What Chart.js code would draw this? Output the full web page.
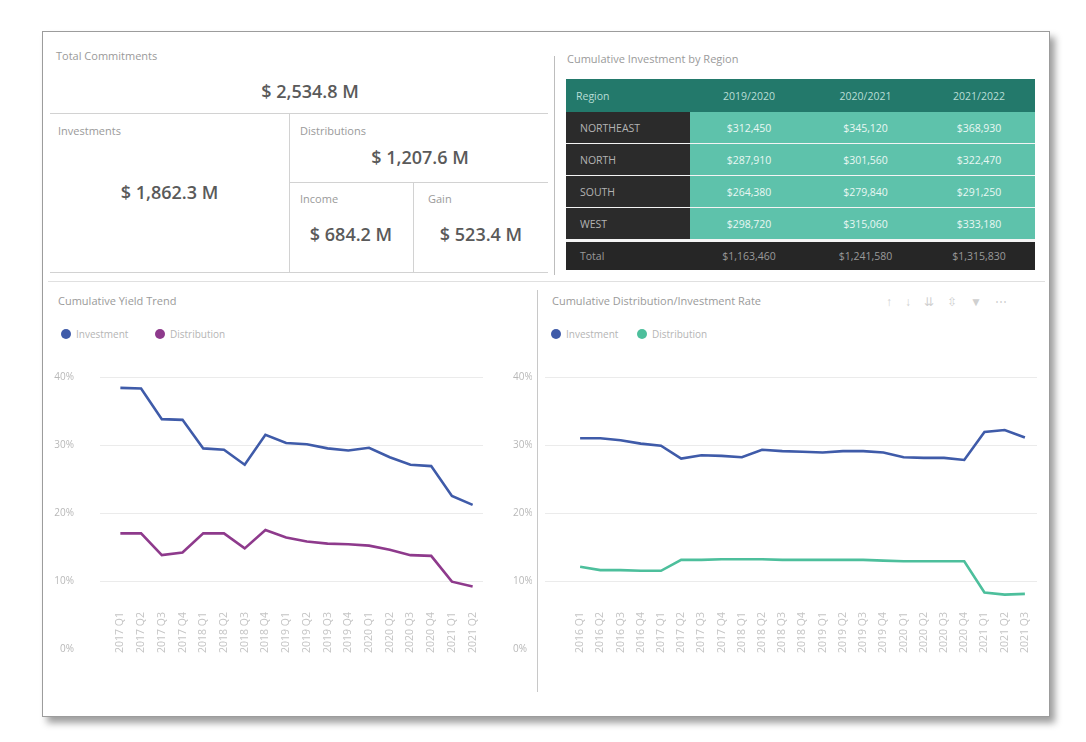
<!DOCTYPE html>
<html>
<head>
<meta charset="utf-8">
<script src="https://cdn.jsdelivr.net/npm/chart.js@4"></script>
<style>
  html, body { margin:0; padding:0; background:#fff; }
  body { width:1086px; height:742px; position:relative; overflow:hidden; font-family:"Open Sans","Noto Sans",sans-serif; }
  .abs { position:absolute; }
  .card { left:42px; top:31px; width:1006px; height:684px; border:1px solid #9c9c9c; background:#fff;
          box-shadow:5px 6px 7px rgba(0,0,0,0.38); }
  .line { position:absolute; background:#d2d2d2; }
  .ttl { position:absolute; font-size:11px; color:#9a9a9a; white-space:nowrap; }
  .val { position:absolute; font-size:18px; font-weight:600; color:#5a5a5a; text-align:center; white-space:nowrap; }
  .leg { position:absolute; font-size:10px; color:#b5b5b5; white-space:nowrap; display:flex; align-items:center; }
  .dot { width:10px; height:10px; border-radius:50%; display:inline-block; margin-right:5px; }
  table.reg { position:absolute; left:566px; top:79px; width:469px; border-collapse:collapse; table-layout:fixed; font-size:10.5px; }
  table.reg td, table.reg th { padding:0; text-align:center; white-space:nowrap; font-weight:400; }
  table.reg th { background:#23796b; color:#b9ded6; height:33px; }
  table.reg th:first-child { text-align:left; padding-left:10px; }
  table.reg td { height:31px; border-bottom:1.5px solid #f4f4f4; }
  table.reg td.rg { background:#2b2b2b; color:#b3b3b3; text-align:left; padding-left:14px; }
  table.reg td.nv { background:#5ec2ab; color:#e9f7f3; }
  table.reg tr.tot td { background:#262626; color:#9a9a9a; height:28px; border-bottom:none; border-top:3px solid #f4f4f4; }
  .icons { position:absolute; left:886px; top:293px; font-size:12px; color:#d0d0d0; letter-spacing:13px; white-space:nowrap; }
  canvas { position:absolute; }
</style>
</head>
<body>
<div class="abs card"></div>

<!-- KPI block -->
<div class="ttl" style="left:56px;top:48px;">Total Commitments</div>
<div class="val" style="left:50px;width:520px;top:79px;" id="kpi0"></div>
<div class="line" style="left:50px;top:113px;width:498px;height:1px;"></div>
<div class="ttl" style="left:58px;top:123px;">Investments</div>
<div class="val" style="left:50px;width:239px;top:180px;" id="kpi1"></div>
<div class="line" style="left:289px;top:113px;width:1px;height:159px;"></div>
<div class="ttl" style="left:300px;top:123px;">Distributions</div>
<div class="val" style="left:289px;width:262px;top:145px;" id="kpi2"></div>
<div class="line" style="left:289px;top:182px;width:259px;height:1px;"></div>
<div class="ttl" style="left:300px;top:191px;">Income</div>
<div class="val" style="left:289px;width:124px;top:222px;" id="kpi3"></div>
<div class="line" style="left:413px;top:182px;width:1px;height:90px;"></div>
<div class="ttl" style="left:428px;top:191px;">Gain</div>
<div class="val" style="left:413px;width:136px;top:222px;" id="kpi4"></div>
<div class="line" style="left:50px;top:272px;width:498px;height:1px;"></div>
<div class="line" style="left:554px;top:56px;width:1px;height:219px;background:#bdbdbd;"></div>

<!-- Table -->
<div class="ttl" style="left:567px;top:51px;">Cumulative Investment by Region</div>
<table class="reg" id="regTable">
  <colgroup><col style="width:124px"><col style="width:118px"><col style="width:115px"><col style="width:112px"></colgroup>
</table>

<div class="line" style="left:48px;top:281px;width:997px;height:1px;background:#e0e0e0;"></div>
<div class="line" style="left:537px;top:290px;width:1px;height:402px;background:#c8c8c8;"></div>

<!-- Left chart header -->
<div class="ttl" style="left:58px;top:293px;">Cumulative Yield Trend</div>
<div class="leg" style="left:61px;top:327px;"><span class="dot" style="background:#3f5ba9"></span>Investment</div>
<div class="leg" style="left:155px;top:327px;"><span class="dot" style="background:#8e3a8c"></span>Distribution</div>

<!-- Right chart header -->
<div class="ttl" style="left:552px;top:293px;">Cumulative Distribution/Investment Rate</div>
<div class="icons">↑↓⇊⇳▼⋯</div>
<div class="leg" style="left:551px;top:327px;"><span class="dot" style="background:#3f5ba9"></span>Investment</div>
<div class="leg" style="left:637px;top:327px;"><span class="dot" style="background:#4dbf9c"></span>Distribution</div>

<canvas id="leftChart" width="482" height="330" style="left:50px;top:360px;width:482px;height:330px;"></canvas>
<canvas id="rightChart" width="505" height="330" style="left:540px;top:360px;width:505px;height:330px;"></canvas>

<script>
// ---- KPI data ----
const kpiValues = ["$ 2,534.8 M", "$ 1,862.3 M", "$ 1,207.6 M", "$ 684.2 M", "$ 523.4 M"];

// ---- Table data ----
const tableHeaders = ["Region", "2019/2020", "2020/2021", "2021/2022"];
const regions = ["NORTHEAST", "NORTH", "SOUTH", "WEST"];
const regionCol1 = ["$312,450", "$287,910", "$264,380", "$298,720"];
const regionCol2 = ["$345,120", "$301,560", "$279,840", "$315,060"];
const regionCol3 = ["$368,930", "$322,470", "$291,250", "$333,180"];
const totalRow = ["Total", "$1,163,460", "$1,241,580", "$1,315,830"];

// ---- Left chart data ----
const leftLabels = ["2017 Q1","2017 Q2","2017 Q3","2017 Q4","2018 Q1","2018 Q2","2018 Q3","2018 Q4","2019 Q1",
                    "2019 Q2","2019 Q3","2019 Q4","2020 Q1","2020 Q2","2020 Q3","2020 Q4","2021 Q1","2021 Q2"];
const leftInvestment   = [38.4, 38.3, 33.8, 33.7, 29.5, 29.3, 27.1, 31.5, 30.3, 30.1, 29.5, 29.2, 29.6, 28.2, 27.1, 26.9, 22.5, 21.2];
const leftDistribution = [17.0, 17.0, 13.8, 14.2, 17.0, 17.0, 14.8, 17.5, 16.4, 15.8, 15.5, 15.4, 15.2, 14.6, 13.8, 13.7, 9.9, 9.2];

// ---- Right chart data ----
const rightLabels = ["2016 Q1","2016 Q2","2016 Q3","2016 Q4","2017 Q1","2017 Q2","2017 Q3","2017 Q4","2018 Q1","2018 Q2",
                     "2018 Q3","2018 Q4","2019 Q1","2019 Q2","2019 Q3","2019 Q4","2020 Q1","2020 Q2","2020 Q3","2020 Q4",
                     "2021 Q1","2021 Q2","2021 Q3"];
const rightInvestment   = [31.0, 31.0, 30.7, 30.2, 29.9, 28.0, 28.5, 28.4, 28.2, 29.3, 29.1, 29.0, 28.9, 29.1, 29.1, 28.9, 28.2, 28.1, 28.1, 27.8, 31.9, 32.2, 31.1];
const rightDistribution = [12.1, 11.6, 11.6, 11.5, 11.5, 13.1, 13.1, 13.2, 13.2, 13.2, 13.1, 13.1, 13.1, 13.1, 13.1, 13.0, 12.9, 12.9, 12.9, 12.9, 8.3, 8.0, 8.1];

// ---- Axis ----
const yMin = 0, yMax = 40, yStep = 10;

// KPI fill
kpiValues.forEach((v, i) => { document.getElementById('kpi' + i).textContent = v; });

// Table fill
(function () {
  const t = document.getElementById('regTable');
  let html = '<tr>' + tableHeaders.map(h => '<th>' + h + '</th>').join('') + '</tr>';
  regions.forEach((r, i) => {
    html += '<tr><td class="rg">' + r + '</td><td class="nv">' + regionCol1[i] + '</td><td class="nv">' +
            regionCol2[i] + '</td><td class="nv">' + regionCol3[i] + '</td></tr>';
  });
  html += '<tr class="tot"><td class="rg">' + totalRow[0] + '</td><td>' + totalRow[1] + '</td><td>' + totalRow[2] + '</td><td>' + totalRow[3] + '</td></tr>';
  t.insertAdjacentHTML('beforeend', html);
})();

const FONT = '"Open Sans","Noto Sans",sans-serif';

// Grid lines that extend a bit left of the plot, drawn from the y scale
const extGrid = {
  id: 'extGrid',
  beforeDatasetsDraw(chart, args, opts) {
    const { ctx, chartArea } = chart;
    const ys = chart.scales.y;
    ctx.save();
    ctx.strokeStyle = '#ebebeb';
    ctx.lineWidth = 1;
    ys.ticks.forEach(t => {
      if (t.value <= yMin) return;
      const py = Math.round(ys.getPixelForValue(t.value)) + 0.5;
      ctx.beginPath();
      ctx.moveTo(chartArea.left - (opts.left || 0), py);
      ctx.lineTo(chartArea.right + (opts.right || 0), py);
      ctx.stroke();
    });
    ctx.restore();
  }
};

// Vertical category labels that sit just above the bottom of the plot (as in the reference)
const xLabelsInside = {
  id: 'xLabelsInside',
  afterDraw(chart, args, opts) {
    const { ctx, chartArea } = chart;
    const xs = chart.scales.x;
    ctx.save();
    ctx.font = '10.5px ' + FONT;
    ctx.fillStyle = '#c4c4c4';
    ctx.textAlign = 'right';
    ctx.textBaseline = 'middle';
    chart.data.labels.forEach((lab, i) => {
      const px = xs.getPixelForValue(i);
      ctx.save();
      ctx.translate(px, chartArea.bottom - (opts.rise || 40));
      ctx.rotate(-Math.PI / 2);
      ctx.fillText(lab, 0, 0);
      ctx.restore();
    });
    ctx.restore();
  }
};

Chart.defaults.font.family = FONT;
Chart.defaults.animation = false;

function xAxis() {
  return {
    type: 'category',
    offset: true,
    grid: { display: false },
    border: { display: false },
    ticks: { display: false },
    afterFit(s) { s.height = 41; }
  };
}
const pct = v => v + '%';
function noPad(s) { s.paddingTop = 0; s.paddingBottom = 0; }

new Chart(document.getElementById('leftChart'), {
  type: 'line',
  data: {
    labels: leftLabels,
    datasets: [
      { label: 'Investment', data: leftInvestment, borderColor: '#3f5ba9', borderWidth: 2.6, pointRadius: 0, tension: 0, yAxisID: 'y' },
      { label: 'Distribution', data: leftDistribution, borderColor: '#8e3a8c', borderWidth: 2.6, pointRadius: 0, tension: 0, yAxisID: 'y' }
    ]
  },
  options: {
    responsive: false,
    devicePixelRatio: 1,
    layout: { padding: { top: 17, left: 0, right: 0, bottom: 0 } },
    plugins: { legend: { display: false }, tooltip: { enabled: false }, extGrid: { left: 10, right: 0 }, xLabelsInside: { rise: 37 } },
    scales: {
      x: xAxis(),
      y: {
        position: 'left', min: yMin, max: yMax,
        grid: { display: false }, border: { display: false },
        ticks: { stepSize: yStep, padding: 28, color: '#b8b8b8', font: { size: 10 }, callback: pct },
        afterFit(s) { s.width = 60; noPad(s); }
      },
      y2: {
        position: 'right', min: yMin, max: yMax,
        grid: { display: false }, border: { display: false },
        ticks: { stepSize: yStep, padding: 22, color: '#b8b8b8', font: { size: 10 }, callback: pct },
        afterFit(s) { s.width = 49; noPad(s); }
      }
    }
  },
  plugins: [extGrid, xLabelsInside]
});

new Chart(document.getElementById('rightChart'), {
  type: 'line',
  data: {
    labels: rightLabels,
    datasets: [
      { label: 'Investment', data: rightInvestment, borderColor: '#3f5ba9', borderWidth: 2.6, pointRadius: 0, tension: 0 },
      { label: 'Distribution', data: rightDistribution, borderColor: '#4dbf9c', borderWidth: 2.6, pointRadius: 0, tension: 0 }
    ]
  },
  options: {
    responsive: false,
    devicePixelRatio: 1,
    layout: { padding: { top: 17, left: 0, right: 10, bottom: 0 } },
    plugins: { legend: { display: false }, tooltip: { enabled: false }, extGrid: { left: 25, right: 2 }, xLabelsInside: { rise: 37 } },
    scales: {
      x: xAxis(),
      y: {
        position: 'left', min: yMin, max: yMax,
        grid: { display: false }, border: { display: false },
        ticks: { stepSize: yStep, display: false },
        afterFit(s) { s.width = 30; noPad(s); }
      }
    }
  },
  plugins: [extGrid, xLabelsInside]
});
</script>
</body>
</html>
